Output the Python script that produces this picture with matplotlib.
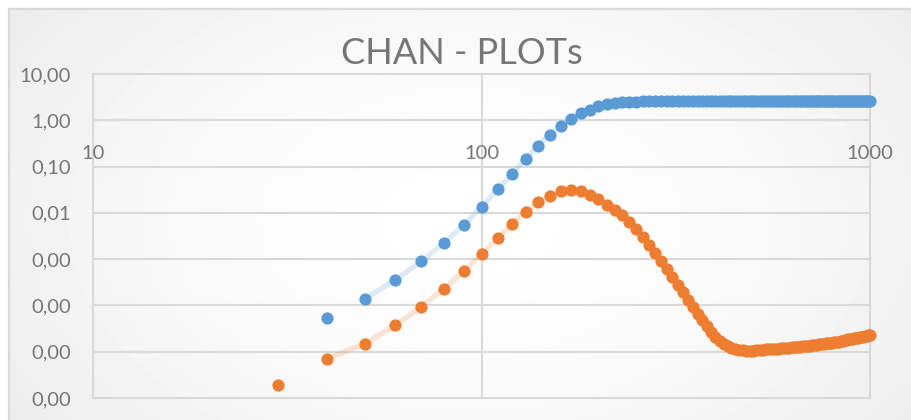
import matplotlib
matplotlib.use("Agg")
import matplotlib.pyplot as plt
import numpy as np
from matplotlib.ticker import FixedLocator, FixedFormatter, NullLocator

# ---------------------------------------------------------
# Data (x step of 10 days)
# ---------------------------------------------------------
time_orange = list(range(30, 1010, 10))
time_blue = list(range(40, 1010, 10))

wor = [
    2.58, 2.58, 2.58, 2.58, 2.58, 2.58, 2.58, 2.58, 2.58, 2.58,
    2.58, 2.58, 2.58, 2.58, 2.58, 2.58, 2.58, 2.58, 2.58, 2.58,
    2.58, 2.58, 2.58, 2.58, 2.58, 2.58, 2.58, 2.58, 2.58, 2.58,
    2.58, 2.58, 2.58, 2.58, 2.58, 2.58, 2.58, 2.58, 2.58, 2.58,
    2.58, 2.58, 2.58, 2.58, 2.58, 2.58, 2.58, 2.58, 2.58, 2.58,
    2.58, 2.58, 2.58, 2.58, 2.58, 2.59, 2.59, 2.59, 2.59, 2.59,
    2.59, 2.59, 2.59, 2.59, 2.59, 2.59, 2.59, 2.59, 2.59, 2.59,
]
wor = [
    5.44e-5, 1.38e-4, 3.55e-4, 8.9e-4, 2.24e-3, 5.5e-3, 1.33e-2, 3.27e-2,
    7.02e-2, 0.147, 0.283, 0.490, 0.768, 1.07, 1.45, 1.71, 2.01, 2.22,
    2.38, 2.45, 2.50, 2.53, 2.55, 2.56, 2.57, 2.575, 2.58,
] + wor

wor_deriv = [
    1.93e-6, 7.05e-6, 1.49e-5, 3.70e-5, 9.40e-5, 2.31e-4, 5.50e-4, 1.29e-3,
    2.85e-3, 5.75e-3, 1.05e-2, 1.71e-2, 2.32e-2, 2.91e-2, 3.16e-2, 3.01e-2,
    2.47e-2, 1.99e-2, 1.50e-2, 1.17e-2, 9.1e-3, 6.4e-3, 4.4e-3, 3.0e-3,
    2.04e-3, 1.37e-3, 9.2e-4, 6.2e-4, 4.14e-4, 2.78e-4, 1.91e-4, 1.32e-4,
    9.3e-5, 6.55e-5, 4.73e-5, 3.51e-5, 2.67e-5, 2.08e-5, 1.70e-5, 1.47e-5,
    1.30e-5, 1.20e-5, 1.13e-5, 1.09e-5, 1.07e-5, 1.06e-5, 1.06e-5, 1.06e-5,
    1.08e-5, 1.09e-5, 1.10e-5, 1.12e-5, 1.13e-5, 1.15e-5, 1.16e-5, 1.17e-5,
    1.19e-5, 1.20e-5, 1.21e-5, 1.23e-5, 1.24e-5, 1.25e-5, 1.26e-5, 1.28e-5,
    1.30e-5, 1.32e-5, 1.34e-5, 1.36e-5, 1.38e-5, 1.40e-5, 1.42e-5, 1.45e-5,
    1.47e-5, 1.49e-5, 1.51e-5, 1.54e-5, 1.56e-5, 1.58e-5, 1.60e-5, 1.63e-5,
    1.66e-5, 1.69e-5, 1.73e-5, 1.76e-5, 1.80e-5, 1.84e-5, 1.87e-5, 1.91e-5,
    1.95e-5, 1.99e-5, 2.02e-5, 2.06e-5, 2.10e-5, 2.13e-5, 2.18e-5, 2.22e-5,
    2.25e-5, 2.30e-5,
]

y_ticks = [1e-6, 1e-5, 1e-4, 1e-3, 1e-2, 1e-1, 1, 10]
y_tick_labels = ["0,00", "0,00", "0,00", "0,00", "0,01", "0,10", "1,00", "10,00"]
x_ticks = [10, 100, 1000]
x_tick_labels = ["10", "100", "1000"]

BLUE = "#5b9bd5"
ORANGE = "#ed7d31"
GRID = "#d9d9d9"
TEXT = "#767676"

plt.rcParams["font.family"] = ["Lato", "DejaVu Sans"]

W, H = 911, 420
fig = plt.figure(figsize=(W / 100, H / 100), dpi=100)
fig.patch.set_facecolor("white")

# ---------------------------------------------------------
# Chart-area background: soft radial gradient + thin border
# ---------------------------------------------------------
bg = fig.add_axes([0, 0, 1, 1], zorder=-5)
yy, xx = np.mgrid[0:H, 0:W]
r = np.hypot((xx - 470) / 520.0, (yy - 220) / 330.0)
shade = 1.0 - 0.065 * np.clip(r, 0, 1.3) ** 1.6
shade[(xx < 8) | (yy < 8)] = 1.0
bg.imshow(shade, cmap="gray", vmin=0, vmax=1, extent=(0, W, H, 0), aspect="auto",
          interpolation="bilinear")
bg.plot([8.5, 8.5, W], [H, 8.5, 8.5], color=GRID, lw=1.6)
bg.set_xlim(0, W)
bg.set_ylim(H, 0)
bg.axis("off")

# ---------------------------------------------------------
# Plot area
# ---------------------------------------------------------
ax = fig.add_axes([93 / W, 1 - 398 / H, (870 - 93) / W, (398 - 74) / H])
ax.set_facecolor("none")
ax.set_xscale("log")
ax.set_yscale("log")
ax.set_xlim(10, 1000)
ax.set_ylim(1e-6, 10)

ax.plot(time_blue[1:], wor[1:], color=BLUE, alpha=0.2, lw=3.8, solid_capstyle="round", zorder=2)
ax.plot(time_orange[1:], wor_deriv[1:], color=ORANGE, alpha=0.2, lw=3.8, solid_capstyle="round", zorder=2)
ax.plot(time_blue, wor, "o", color=BLUE, ms=8.8, mew=0, zorder=3, clip_on=False)
ax.plot(time_orange, wor_deriv, "o", color=ORANGE, ms=8.8, mew=0, zorder=3, clip_on=False)

for s in ax.spines.values():
    s.set_visible(False)

ax.yaxis.set_major_locator(FixedLocator(y_ticks))
ax.yaxis.set_major_formatter(FixedFormatter(y_tick_labels))
ax.yaxis.set_minor_locator(NullLocator())
ax.xaxis.set_major_locator(FixedLocator(x_ticks))
ax.xaxis.set_major_formatter(FixedFormatter(x_tick_labels))
ax.xaxis.set_minor_locator(NullLocator())

ax.spines["bottom"].set_position(("data", 1.0))
ax.tick_params(axis="y", length=0, pad=16, labelsize=14.5, labelcolor=TEXT)
ax.tick_params(axis="x", length=0, pad=18, labelsize=14.5, labelcolor=TEXT)

ax.grid(True, which="major", color=GRID, lw=1.5, zorder=0)
for gl in ax.get_xgridlines() + ax.get_ygridlines():
    gl.set_clip_on(False)
ax.set_axisbelow(True)

fig.text(462 / W, 1 - 54 / H, "CHAN - PLOTs", ha="center", va="center",
         fontsize=26, color=TEXT, fontweight="normal")

fig.savefig("out.png", dpi=100)
